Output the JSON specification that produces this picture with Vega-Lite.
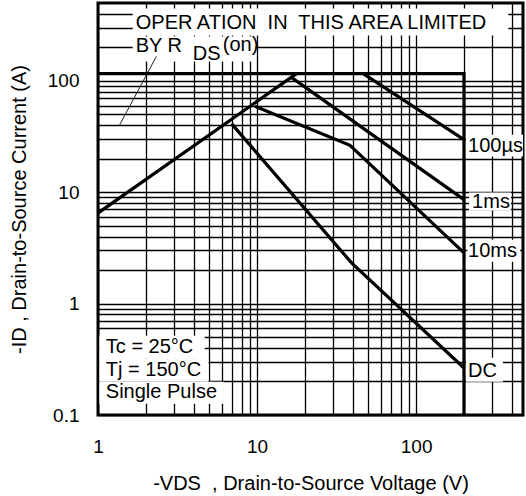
{
  "$schema": "https://vega.github.io/schema/vega-lite/v6.json",
  "autosize": "none",
  "padding": {"left": 98, "top": 3, "right": 3, "bottom": 81},
  "width": 425,
  "height": 412,
  "background": "white",
  "config": {
    "view": {"stroke": "black", "strokeWidth": 3},
    "font": "Liberation Sans"
  },
  "datasets": {
    "curves": [
      {"s": "RDS", "i": 0, "x": 1, "y": 6.5},
      {"s": "RDS", "i": 1, "x": 17.7, "y": 116},
      {"s": "SOA", "i": 0, "x": 1, "y": 116},
      {"s": "SOA", "i": 1, "x": 200, "y": 116},
      {"s": "SOA", "i": 2, "x": 200, "y": 0.1},
      {"s": "100us", "i": 0, "x": 46.5, "y": 116},
      {"s": "100us", "i": 1, "x": 200, "y": 29.7},
      {"s": "1ms", "i": 0, "x": 16.5, "y": 107},
      {"s": "1ms", "i": 1, "x": 200, "y": 8.58},
      {"s": "10ms", "i": 0, "x": 9.69, "y": 59.1},
      {"s": "10ms", "i": 1, "x": 38.4, "y": 26.4},
      {"s": "10ms", "i": 2, "x": 200, "y": 2.85},
      {"s": "DC", "i": 0, "x": 6.91, "y": 41.3},
      {"s": "DC", "i": 1, "x": 39.3, "y": 2.32},
      {"s": "DC", "i": 2, "x": 200, "y": 0.264}
    ],
    "pointer": [
      {"x": 1.37, "y": 40.4},
      {"x": 2.33, "y": 166}
    ],
    "boxes": [
      {"x": 1.654, "x2": 380, "y": 255, "y2": 446},
      {"x": 1.654, "x2": 9.8, "y": 149, "y2": 250},
      {"x": 1.02, "x2": 4.69, "y": 0.32, "y2": 0.515},
      {"x": 1.02, "x2": 4.95, "y": 0.199, "y2": 0.32},
      {"x": 1.02, "x2": 6.18, "y": 0.126, "y2": 0.199},
      {"x": 206, "x2": 470, "y": 20.9, "y2": 32.9},
      {"x": 215, "x2": 395, "y": 6.84, "y2": 9.92},
      {"x": 210, "x2": 451, "y": 2.38, "y2": 3.75},
      {"x": 206, "x2": 352, "y": 0.199, "y2": 0.326}
    ],
    "labels": [
      {"t": "OPER ATION\u00a0 IN\u00a0 THIS AREA LIMITED", "x": 1.727, "y": 334},
      {"t": "BY R", "x": 1.727, "y": 207},
      {"t": "DS", "x": 3.94, "y": 176},
      {"t": "(on)", "x": 6.09, "y": 212},
      {"t": "100µs", "x": 212, "y": 26.2},
      {"t": "1ms", "x": 225, "y": 8.23},
      {"t": "10ms", "x": 212, "y": 2.99},
      {"t": "DC", "x": 212, "y": 0.25},
      {"t": "Tc = 25°C", "x": 1.12, "y": 0.41},
      {"t": "Tj = 150°C", "x": 1.12, "y": 0.255},
      {"t": "Single Pulse", "x": 1.12, "y": 0.161}
    ]
  },
  "encoding": {
    "x": {
      "field": "x", "type": "quantitative",
      "scale": {"type": "log", "domain": [1, 470], "nice": false},
      "axis": {
        "title": "-VDS\u00a0 , Drain-to-Source Voltage (V)",
        "values": [1,2,3,4,5,6,7,8,9,10,20,30,40,50,60,70,80,90,100,200,300,400],
        "labelExpr": "datum.value == 1 || datum.value == 10 || datum.value == 100 ? format(datum.value, '~g') : ''",
        "grid": true, "ticks": false, "domain": false,
        "gridColor": "black", "gridWidth": 1.3, "gridOpacity": 1,
        "labelFontSize": 19, "labelFont": "Liberation Sans", "labelColor": "black",
        "labelPadding": 22, "labelOverlap": false, "labelFlush": false,
        "titleFontSize": 20, "titleFont": "Liberation Sans", "titleFontWeight": "normal",
        "titleColor": "black", "titleY": 74, "titleBaseline": "alphabetic"
      }
    },
    "y": {
      "field": "y", "type": "quantitative",
      "scale": {"type": "log", "domain": [0.1, 500], "nice": false},
      "axis": {
        "title": "-ID , Drain-to-Source Current (A)",
        "values": [0.1,0.2,0.3,0.4,0.5,0.6,0.7,0.8,0.9,1,2,3,4,5,6,7,8,9,10,20,30,40,50,60,70,80,90,100,200,300,400],
        "labelExpr": "datum.value == 0.1 || datum.value == 1 || datum.value == 10 || datum.value == 100 ? format(datum.value, '~g') : ''",
        "grid": true, "ticks": false, "domain": false,
        "gridColor": "black", "gridWidth": 1.3, "gridOpacity": 1,
        "labelFontSize": 19, "labelFont": "Liberation Sans", "labelColor": "black",
        "labelPadding": 19, "labelOverlap": false, "labelFlush": false,
        "titleFontSize": 20, "titleFont": "Liberation Sans", "titleFontWeight": "normal",
        "titleColor": "black", "titleX": -73, "titleY": 206, "titleAngle": -90,
        "titleBaseline": "alphabetic", "titleAlign": "center"
      }
    }
  },
  "layer": [
    {
      "data": {"name": "boxes"},
      "mark": {"type": "rect", "fill": "white", "stroke": null},
      "encoding": {
        "x2": {"field": "x2"},
        "y2": {"field": "y2"}
      }
    },
    {
      "data": {"name": "pointer"},
      "mark": {"type": "line", "stroke": "#222", "strokeWidth": 1},
      "encoding": {}
    },
    {
      "data": {"name": "curves"},
      "mark": {"type": "line", "stroke": "black", "strokeWidth": 3.2, "strokeJoin": "miter", "strokeCap": "butt", "clip": true},
      "encoding": {
        "detail": {"field": "s"},
        "order": {"field": "i", "type": "quantitative"}
      }
    },
    {
      "data": {"name": "labels"},
      "mark": {"type": "text", "align": "left", "baseline": "middle", "font": "Liberation Sans", "fontSize": 20, "color": "black"},
      "encoding": {"text": {"field": "t"}}
    }
  ]
}
